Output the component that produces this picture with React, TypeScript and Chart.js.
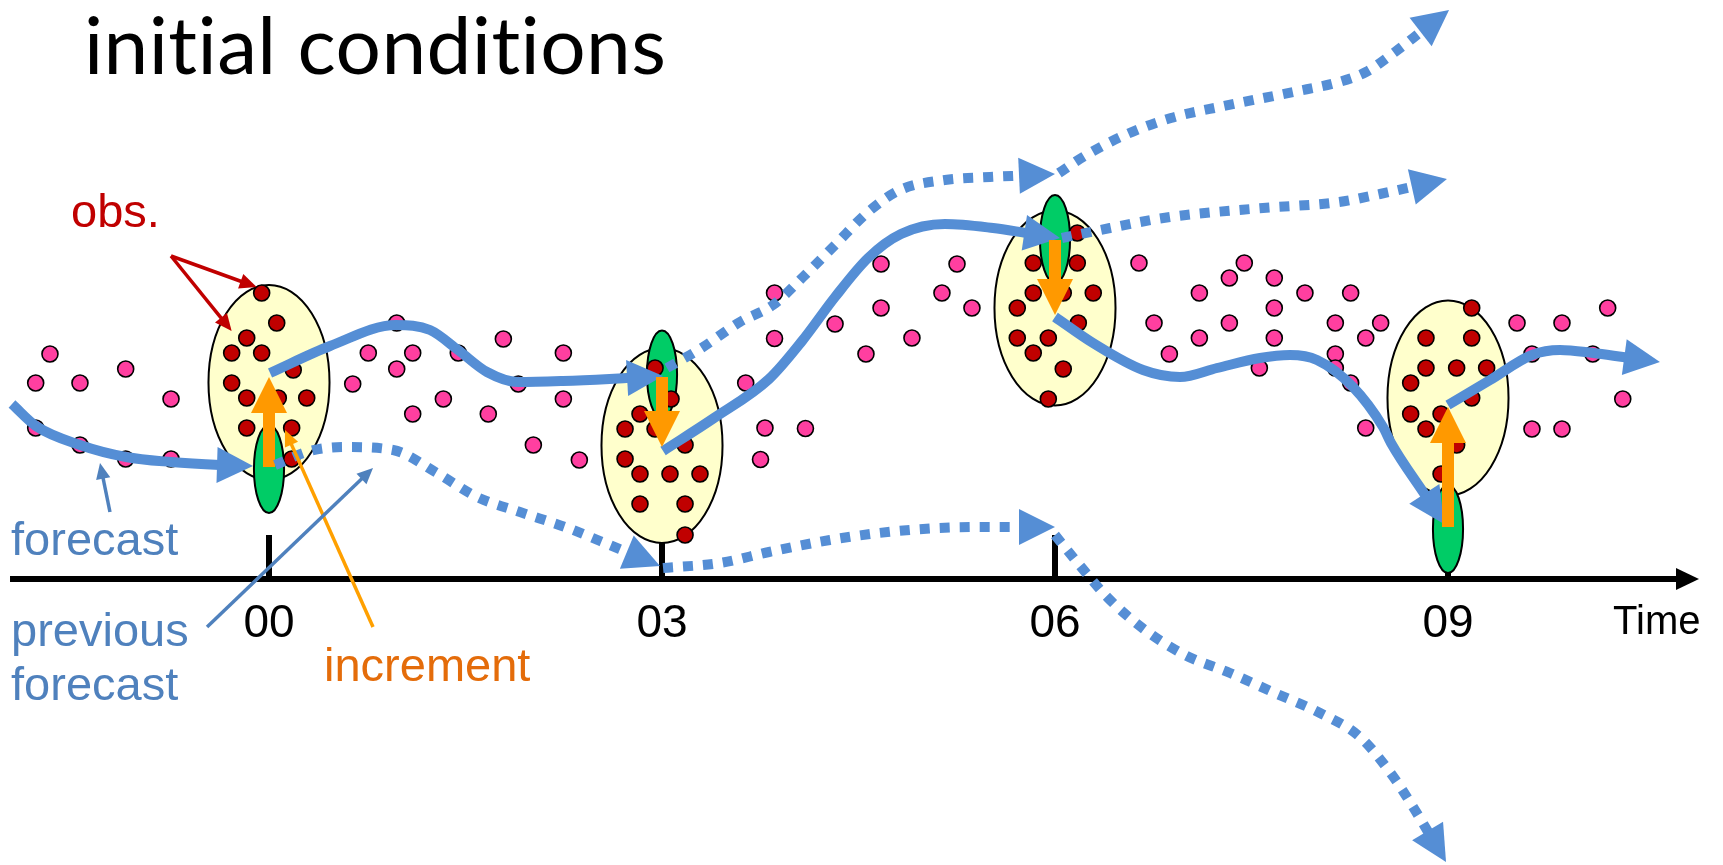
import React, { useEffect, useRef } from "react";
import { Chart, registerables } from "chart.js";

Chart.register(...registerables);

// x: hours after 00 UTC, y: model state (arbitrary units)
const analysisTimes = [0, 3, 6, 9];
const timeTickLabels = ["00", "03", "06", "09"];

// observations outside the assimilation windows
const obsBefore00 = [[-1.672, 2.25], [-1.781, 1.96], [-1.443, 1.96], [-1.094, 2.1], [-0.748, 1.8], [-1.781, 1.51], [-1.443, 1.34], [-1.094, 1.2], [-0.748, 1.2]];
const obs00to03 = [[0.639, 1.95], [0.758, 2.26], [0.975, 2.56], [0.975, 2.1], [1.097, 2.26], [1.097, 1.65], [1.331, 1.8], [1.445, 2.26], [1.674, 1.65], [1.789, 2.4], [1.903, 1.95], [2.018, 1.34], [2.247, 2.26], [2.247, 1.8], [2.369, 1.19]];
const obs03to06 = [[3.639, 1.96], [3.752, 1.195], [3.786, 1.51], [3.859, 2.86], [3.859, 2.405], [4.095, 1.505], [4.321, 2.55], [4.557, 2.25], [4.672, 3.15], [4.672, 2.71], [4.908, 2.41], [5.137, 2.86], [5.252, 3.15], [5.366, 2.71]];
const obs06to09 = [[6.641, 3.16], [6.756, 2.56], [6.873, 2.25], [7.102, 2.86], [7.102, 2.41], [7.331, 3.01], [7.331, 2.56], [7.445, 3.16], [7.56, 2.11], [7.674, 3.01], [7.674, 2.71], [7.674, 2.41], [7.908, 2.86], [8.14, 2.56], [8.14, 2.25], [8.14, 2.11], [8.257, 2.86], [8.257, 1.96], [8.372, 2.41], [8.372, 1.51], [8.486, 2.56]];
const obsAfter09 = [[9.527, 2.56], [9.641, 2.25], [9.641, 1.5], [9.87, 2.56], [9.87, 1.5], [10.105, 2.25], [10.219, 2.71], [10.334, 1.8]];

// observations used in each analysis window
const obsIn00 = [[-0.056, 2.86], [0.059, 2.56], [-0.17, 2.41], [-0.285, 2.26], [-0.056, 2.26], [0.185, 2.09], [-0.285, 1.96], [-0.17, 1.81], [0.071, 1.81], [0.288, 1.81], [-0.17, 1.51], [0.173, 1.51], [0.173, 1.2]];
const obsIn03 = [[2.947, 2.11], [3.069, 1.8], [2.832, 1.65], [2.718, 1.5], [2.947, 1.5], [3.176, 1.34], [2.718, 1.2], [2.832, 1.05], [3.061, 1.05], [3.29, 1.05], [2.832, 0.75], [3.176, 0.75], [3.176, 0.44]];
const obsIn06 = [[6.17, 3.46], [5.834, 3.16], [6.17, 3.16], [5.834, 2.86], [6.063, 2.86], [6.292, 2.86], [5.712, 2.71], [6.178, 2.56], [5.712, 2.41], [5.949, 2.41], [5.834, 2.26], [6.063, 2.1], [5.949, 1.8]];
const obsIn09 = [[9.181, 2.71], [8.832, 2.41], [9.181, 2.41], [8.832, 2.11], [9.066, 2.11], [9.295, 2.11], [8.715, 1.96], [9.181, 1.81], [8.715, 1.65], [8.947, 1.65], [8.832, 1.5], [9.066, 1.34], [8.947, 1.05]];

// observation-window ellipses (centre state, half spread)
const obsWindowCenter = [1.965, 1.335, 2.71, 1.81];
const obsWindowHalfTime = 0.462;
const obsWindowHalfState = 0.975;
// background (first guess) ellipses
const backgroundCenter = [1.1, 2.045, 3.4, 0.5];
const backgroundHalfTime = 0.115;
const backgroundHalfState = 0.44;

// analysis increments: background value -> analysis value
const incrementFrom = [1.12, 2.02, 3.39, 0.52];
const incrementTo = [2.02, 1.32, 2.64, 1.72];

// forecasts (solid)
const fcBefore00 = [[-1.962, 1.75], [-1.779, 1.53], [-1.443, 1.34], [-1.092, 1.22], [-0.748, 1.17], [-0.374, 1.14], [-0.122, 1.13]];
const fc00to03 = [[0.008, 2.06], [0.466, 2.33], [0.969, 2.54], [1.229, 2.49], [1.443, 2.29], [1.664, 2.07], [1.901, 1.97], [2.244, 1.98], [2.6, 2.0], [3.008, 2.03]];
const fc03to06 = [[3.008, 1.28], [3.397, 1.61], [3.817, 2.0], [4.069, 2.38], [4.321, 2.82], [4.573, 3.21], [4.824, 3.45], [5.16, 3.55], [5.527, 3.51], [6.038, 3.41]];
const fc06to09 = [[6.0, 2.62], [6.29, 2.36], [6.672, 2.09], [6.954, 2.02], [7.237, 2.11], [7.565, 2.21], [7.794, 2.24], [8.0, 2.19], [8.275, 1.92], [8.504, 1.52], [8.565, 1.36], [8.97, 0.55]];
const fcAfter09 = [[9.0, 1.74], [9.321, 1.99], [9.641, 2.24], [9.855, 2.29], [10.107, 2.26], [10.336, 2.22], [10.618, 2.17]];

// previous forecasts (dotted)
const pf00to03 = [[0.046, 1.14], [0.313, 1.28], [0.58, 1.32], [0.947, 1.29], [1.282, 1.06], [1.588, 0.82], [1.916, 0.67], [2.282, 0.51], [2.527, 0.38], [2.985, 0.13]];
const pf03upper = [[3.038, 2.11], [3.29, 2.3], [3.595, 2.57], [3.847, 2.74], [4.092, 3.04], [4.321, 3.34], [4.573, 3.67], [4.817, 3.89], [5.16, 3.99], [5.504, 4.02], [6.0, 4.05]];
const pf03lower = [[3.008, 0.11], [3.443, 0.16], [3.817, 0.27], [4.282, 0.39], [4.656, 0.46], [5.115, 0.51], [5.496, 0.52], [6.0, 0.52]];
const pf06top = [[6.03, 4.06], [6.214, 4.22], [6.534, 4.44], [6.885, 4.61], [7.29, 4.73], [7.817, 4.87], [8.168, 4.97], [8.374, 5.07], [8.595, 5.27], [9.008, 5.69]];
const pf06mid = [[6.053, 3.41], [6.42, 3.51], [6.779, 3.6], [7.0, 3.64], [7.588, 3.71], [8.168, 3.77], [8.481, 3.85], [8.992, 4.0]];
const pf06low = [[6.0, 0.44], [6.168, 0.17], [6.405, -0.19], [6.687, -0.51], [6.992, -0.76], [7.336, -0.94], [7.679, -1.14], [8.023, -1.34], [8.328, -1.58], [8.573, -1.96], [8.771, -2.36], [8.985, -2.83]];

// annotation pointers [from, to]
const obsPointers = [[[-0.748, 3.23], [-0.094, 2.92]], [[-0.748, 3.23], [-0.285, 2.48]]];
const forecastPointer = [[-1.214, 0.67], [-1.29, 1.16]];
const prevForecastPointer = [[-0.473, -0.48], [0.794, 1.11]];
const incrementPointer = [[0.794, -0.48], [0.122, 1.49]];
const timeAxis = [[-1.977, 0], [10.916, 0]];

const BLUE = "#558ED5";
const LABEL_BLUE = "#4F81BD";
const RED = "#C00000";
const PINK = "#FF3FA0";
const ORANGE = "#FF9900";

const pts = (arr: number[][]) => arr.map(([x, y]) => ({ x, y }));

export default function App() {
  const ref = useRef<HTMLCanvasElement>(null);
  useEffect(() => {
    const canvas = ref.current!;
    const pxPerHour = 131;
    const zeroPx = 269;
    const W = 1723;

    const curve = (arr: number[][], dashed: boolean) => ({
      type: "line",
      data: pts(arr),
      borderColor: BLUE,
      backgroundColor: BLUE,
      borderWidth: 10,
      borderDash: dashed ? [10, 10] : [],
      borderCapStyle: "butt",
      borderJoinStyle: "round",
      pointRadius: 0,
      fill: false,
      cubicInterpolationMode: "monotone",
      clip: false,
      arrow: { len: 36, width: 36 },
    });
    const pointer = (seg: number[][], color: string, width: number, head: number) => ({
      type: "line",
      data: pts(seg),
      borderColor: color,
      backgroundColor: color,
      borderWidth: width,
      borderCapStyle: "butt",
      pointRadius: 0,
      fill: false,
      tension: 0,
      clip: false,
      arrow: { len: head, width: head * 0.9 },
    });
    const dots = (arr: number[][], color: string) => ({
      type: "scatter",
      data: pts(arr),
      pointRadius: 8,
      pointBackgroundColor: color,
      pointBorderColor: "#000",
      pointBorderWidth: 1.6,
      showLine: false,
      clip: false,
    });

    const datasets: any[] = [
      pointer(obsPointers[0], RED, 3.5, 17),
      pointer(obsPointers[1], RED, 3.5, 17),
      pointer(forecastPointer, LABEL_BLUE, 3.5, 16),
      pointer(prevForecastPointer, LABEL_BLUE, 3.5, 16),
      pointer(incrementPointer, "#FFA000", 3.5, 16),
      curve(pf00to03, true),
      curve(pf03upper, true),
      curve(pf03lower, true),
      curve(pf06top, true),
      curve(pf06mid, true),
      curve(pf06low, true),
      ...analysisTimes.map((t, i) => ({
        ...pointer([[t, incrementFrom[i]], [t, incrementTo[i]]], ORANGE, 12, 36),
        arrow: { len: 36, width: 36 },
      })),
      curve(fcBefore00, false),
      curve(fc00to03, false),
      curve(fc03to06, false),
      curve(fc06to09, false),
      curve(fcAfter09, false),
      dots(obsIn00, RED),
      dots(obsIn03, RED),
      dots(obsIn06, RED),
      dots(obsIn09, RED),
      dots(obsBefore00, PINK),
      dots(obs00to03, PINK),
      dots(obs03to06, PINK),
      dots(obs06to09, PINK),
      dots(obsAfter09, PINK),
      { ...pointer(timeAxis, "#000", 6, 23), arrow: { len: 23, width: 22 } },
    ];

    const tips = new Map<number, any>();
    const arrowPlugin = {
      id: "arrowHeads",
      beforeDatasetDraw(chart: any, args: any) {
        const ds = chart.data.datasets[args.index];
        if (!ds.arrow) return;
        const p = args.meta.data;
        const n = p.length;
        const tip = p[n - 1];
        const prev = p[n - 2];
        const dx = tip.x - prev.x;
        const dy = tip.y - prev.y;
        const L = Math.hypot(dx, dy) || 1;
        const ux = dx / L;
        const uy = dy / L;
        tips.set(args.index, { x: tip.x, y: tip.y, ux, uy });
        const back = ds.arrow.len - 3;
        tip.x = tip.x - ux * back;
        tip.y = tip.y - uy * back;
        if (args.meta.dataset) {
          args.meta.dataset._pointsUpdated = false;
          args.meta.dataset._path = undefined;
        }
      },
      afterDatasetDraw(chart: any, args: any) {
        const ds = chart.data.datasets[args.index];
        const t = tips.get(args.index);
        if (!ds.arrow || !t) return;
        const p = args.meta.data;
        const last = p[p.length - 1];
        last.x = t.x;
        last.y = t.y;
        const ctx = chart.ctx;
        const { len, width } = ds.arrow;
        const bx = t.x - t.ux * len;
        const by = t.y - t.uy * len;
        const nx = (-t.uy * width) / 2;
        const ny = (t.ux * width) / 2;
        ctx.save();
        ctx.fillStyle = ds.borderColor;
        ctx.beginPath();
        ctx.moveTo(t.x, t.y);
        ctx.lineTo(bx + nx, by + ny);
        ctx.lineTo(bx - nx, by - ny);
        ctx.closePath();
        ctx.fill();
        ctx.restore();
      },
    };

    const ellipsePlugin = {
      id: "windows",
      beforeDatasetsDraw(chart: any) {
        const ctx = chart.ctx;
        const sx = chart.scales.x;
        const sy = chart.scales.y;
        ctx.save();
        ctx.strokeStyle = "#000";
        ctx.lineWidth = 6;
        analysisTimes.forEach((t) => {
          const x = sx.getPixelForValue(t);
          ctx.beginPath();
          ctx.moveTo(x, sy.getPixelForValue(0));
          ctx.lineTo(x, sy.getPixelForValue(0.44));
          ctx.stroke();
        });
        const ell = (t: number, c: number, ht: number, hs: number, fill: string) => {
          const x = sx.getPixelForValue(t);
          const y = sy.getPixelForValue(c);
          const rx = Math.abs(sx.getPixelForValue(t + ht) - x);
          const ry = Math.abs(sy.getPixelForValue(c + hs) - y);
          ctx.beginPath();
          ctx.ellipse(x, y, rx, ry, 0, 0, Math.PI * 2);
          ctx.fillStyle = fill;
          ctx.fill();
          ctx.lineWidth = 2;
          ctx.strokeStyle = "#000";
          ctx.stroke();
        };
        analysisTimes.forEach((t, i) => ell(t, obsWindowCenter[i], obsWindowHalfTime, obsWindowHalfState, "#FFFFCC"));
        analysisTimes.forEach((t, i) => ell(t, backgroundCenter[i], backgroundHalfTime, backgroundHalfState, "#00CC66"));
        ctx.restore();
      },
    };

    const labels = [
      { text: "obs.", x: -1.511, y: 3.52, color: RED, size: 47, align: "left" },
      { text: "forecast", x: -1.969, y: 0.24, color: LABEL_BLUE, size: 47, align: "left" },
      { text: "previous", x: -1.969, y: -0.67, color: LABEL_BLUE, size: 47, align: "left" },
      { text: "forecast", x: -1.969, y: -1.21, color: LABEL_BLUE, size: 47, align: "left" },
      { text: "increment", x: 0.42, y: -1.02, color: "#E46C0A", size: 47, align: "left" },
      { text: "Time", x: 10.26, y: -0.55, color: "#000", size: 40, align: "left" },
      ...analysisTimes.map((t, i) => ({ text: timeTickLabels[i], x: t, y: -0.58, color: "#000", size: 46, align: "center" })),
    ];

    const textPlugin = {
      id: "texts",
      afterDraw(chart: any) {
        const ctx = chart.ctx;
        const sx = chart.scales.x;
        const sy = chart.scales.y;
        ctx.save();
        ctx.textBaseline = "alphabetic";
        labels.forEach((l) => {
          ctx.font = `${l.size}px "Liberation Sans", Arial, sans-serif`;
          ctx.fillStyle = l.color;
          ctx.textAlign = l.align;
          ctx.fillText(l.text, sx.getPixelForValue(l.x), sy.getPixelForValue(l.y));
        });
        // title: fit ink to the reference extent
        const title = "initial conditions";
        const left = sx.getPixelForValue(-1.382);
        const right = sx.getPixelForValue(3.0);
        ctx.textAlign = "left";
        try { (ctx as any).letterSpacing = "0.4px"; } catch (e) {}
        ctx.font = `100px Lato, "Open Sans", sans-serif`;
        let m = ctx.measureText(title);
        const ink100 = m.actualBoundingBoxRight + m.actualBoundingBoxLeft;
        const size = (100 * (right - left)) / ink100;
        ctx.font = `${size}px Lato, "Open Sans", sans-serif`;
        m = ctx.measureText(title);
        ctx.fillStyle = "#000";
        ctx.fillText(title, left + m.actualBoundingBoxLeft, sy.getPixelForValue(5.05));
        ctx.restore();
      },
    };

    const chart = new Chart(canvas, {
      type: "scatter",
      data: { datasets },
      options: {
        animation: false,
        responsive: false,
        devicePixelRatio: 1,
        events: [],
        layout: { padding: 0, autoPadding: false },
        plugins: { legend: { display: false }, tooltip: { enabled: false } },
        scales: {
          x: { type: "linear", display: false, min: -zeroPx / pxPerHour, max: (W - zeroPx) / pxPerHour },
          y: { type: "linear", display: false, min: -2.86, max: 5.79 },
        },
      },
      plugins: [ellipsePlugin, arrowPlugin, textPlugin],
    } as any);
    return () => chart.destroy();
  }, []);

  return (
    <div style={{ position: "absolute", left: 0, top: 0, width: 1723, height: 865, background: "#fff" }}>
      <canvas ref={ref} width={1723} height={865} style={{ display: "block", width: 1723, height: 865 }} />
    </div>
  );
}
